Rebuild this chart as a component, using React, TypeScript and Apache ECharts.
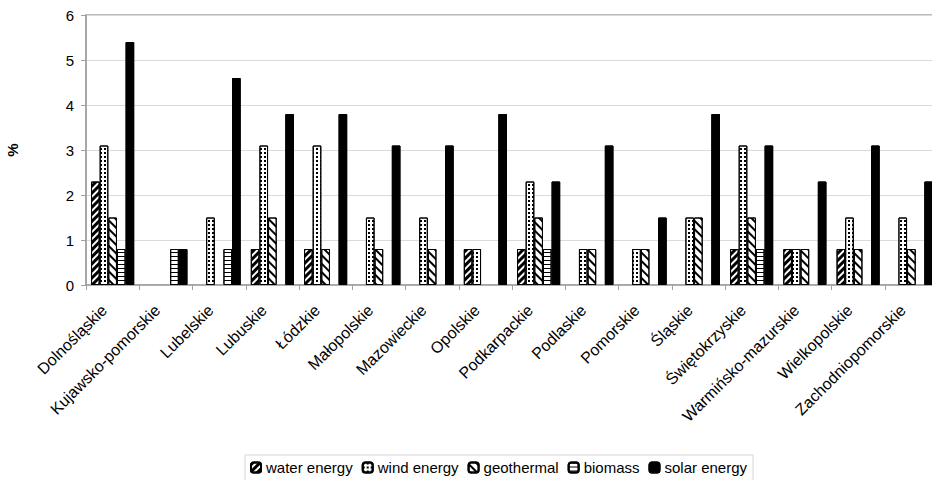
import React, { useEffect, useRef } from "react";
import * as echarts from "echarts";

const categories = [
  "Dolnośląskie",
  "Kujawsko-pomorskie",
  "Lubelskie",
  "Lubuskie",
  "Łódzkie",
  "Małopolskie",
  "Mazowieckie",
  "Opolskie",
  "Podkarpackie",
  "Podlaskie",
  "Pomorskie",
  "Śląskie",
  "Świętokrzyskie",
  "Warmińsko-mazurskie",
  "Wielkopolskie",
  "Zachodniopomorskie",
];

const waterEnergy = [2.3, 0, 0, 0.8, 0.8, 0, 0, 0.8, 0.8, 0, 0, 0, 0.8, 0.8, 0.8, 0];
const windEnergy = [3.1, 0, 1.5, 3.1, 3.1, 1.5, 1.5, 0.8, 2.3, 0.8, 0.8, 1.5, 3.1, 0.8, 1.5, 1.5];
const geothermal = [1.5, 0, 0, 1.5, 0.8, 0.8, 0.8, 0, 1.5, 0.8, 0.8, 1.5, 1.5, 0.8, 0.8, 0.8];
const biomass = [0.8, 0.8, 0.8, 0, 0, 0, 0, 0, 0.8, 0, 0, 0, 0.8, 0, 0, 0];
const solarEnergy = [5.4, 0.8, 4.6, 3.8, 3.8, 3.1, 3.1, 3.8, 2.3, 3.1, 1.5, 3.8, 3.1, 2.3, 3.1, 2.3];

const yTicks = { min: 0, max: 6, interval: 1 };

const FONT = "'Liberation Sans', Arial, sans-serif";

export default function App() {
  const ref = useRef<HTMLDivElement>(null);

  useEffect(() => {
    if (!ref.current) return;
    const chart = echarts.init(ref.current, undefined, { renderer: "svg" });
    const clean = (arr: number[]) => arr.map((v) => (v === 0 ? null : v));
    const common = {
      type: "bar",
      barGap: "0%",
      barCategoryGap: "19%",
    };
    chart.setOption({
      animation: false,
      aria: { enabled: true, decal: { show: true } },
      textStyle: { fontFamily: FONT },
      grid: {
        left: 86,
        right: 2,
        top: 15,
        bottom: 195,
        containLabel: false,
        outerBoundsMode: "none",
        show: true,
        borderColor: "#a6a6a6",
        borderWidth: 1.5,
        backgroundColor: "transparent",
      },
      legend: {
        left: 245,
        top: 455,
        padding: [5, 6, 6, 5],
        itemWidth: 10,
        itemHeight: 10,
        itemGap: 9,
        borderColor: "#d6d6d6",
        borderWidth: 1,
        textStyle: { fontSize: 15, color: "#000", fontFamily: FONT },
        data: ["water energy", "wind energy", "geothermal", "biomass", "solar energy"],
      },
      xAxis: {
        type: "category",
        data: categories,
        axisLine: { show: true, lineStyle: { color: "#a0a0a0", width: 1.5 } },
        axisTick: { show: true, alignWithLabel: false, length: 5, lineStyle: { color: "#a0a0a0" } },
        axisLabel: {
          interval: 0,
          rotate: 45,
          fontSize: 16,
          color: "#000",
          margin: 14,
          padding: [0, 12, 0, 0],
          fontFamily: FONT,
        },
      },
      yAxis: {
        type: "value",
        min: yTicks.min,
        max: yTicks.max,
        interval: yTicks.interval,
        name: "%",
        nameLocation: "middle",
        nameRotate: 90,
        nameGap: 66,
        nameTextStyle: { fontSize: 15, fontWeight: "bold", color: "#000", fontFamily: FONT },
        axisLine: { show: true, lineStyle: { color: "#a0a0a0", width: 1.5 } },
        axisTick: { show: true, length: 5, lineStyle: { color: "#a0a0a0" } },
        axisLabel: { fontSize: 15, color: "#000", margin: 12, fontFamily: FONT },
        splitLine: { show: true, lineStyle: { color: "#dadada", width: 1 } },
      },
      series: [
        {
          ...common,
          name: "water energy",
          data: clean(waterEnergy),
          itemStyle: {
            color: "#ffffff",
            borderColor: "#000",
            borderWidth: 1,
            decal: {
              symbol: "rect",
              color: "#000",
              backgroundColor: "#ffffff",
              dashArrayX: [1, 0],
              dashArrayY: [3, 2],
              rotation: -Math.PI / 4,
            },
          },
        },
        {
          ...common,
          name: "wind energy",
          data: clean(windEnergy),
          itemStyle: {
            color: "#ffffff",
            borderColor: "#000",
            borderWidth: 1,
            decal: {
              symbol: "rect",
              symbolSize: 1,
              color: "#000",
              backgroundColor: "#ffffff",
              dashArrayX: [2, 2],
              dashArrayY: [2, 2],
              rotation: 0,
            },
          },
        },
        {
          ...common,
          name: "geothermal",
          data: clean(geothermal),
          itemStyle: {
            color: "#ffffff",
            borderColor: "#000",
            borderWidth: 1,
            decal: {
              symbol: "rect",
              color: "#000",
              backgroundColor: "#ffffff",
              dashArrayX: [1, 0],
              dashArrayY: [2, 4],
              rotation: Math.PI / 4,
            },
          },
        },
        {
          ...common,
          name: "biomass",
          data: clean(biomass),
          itemStyle: {
            color: "#ffffff",
            borderColor: "#000",
            borderWidth: 1,
            decal: {
              symbol: "rect",
              color: "#000",
              backgroundColor: "#ffffff",
              dashArrayX: [1, 0],
              dashArrayY: [1, 3],
              rotation: 0,
            },
          },
        },
        {
          ...common,
          name: "solar energy",
          data: clean(solarEnergy),
          itemStyle: {
            color: "#000000",
            borderColor: "#000",
            borderWidth: 1,
            decal: { symbol: "none" },
          },
        },
      ],
    });
    return () => chart.dispose();
  }, []);

  return (
    <div
      style={{
        position: "fixed",
        left: 0,
        top: 0,
        width: 932,
        height: 480,
        overflow: "hidden",
        background: "#fff",
      }}
    >
      <div ref={ref} style={{ width: 940, height: 480 }} />
    </div>
  );
}
